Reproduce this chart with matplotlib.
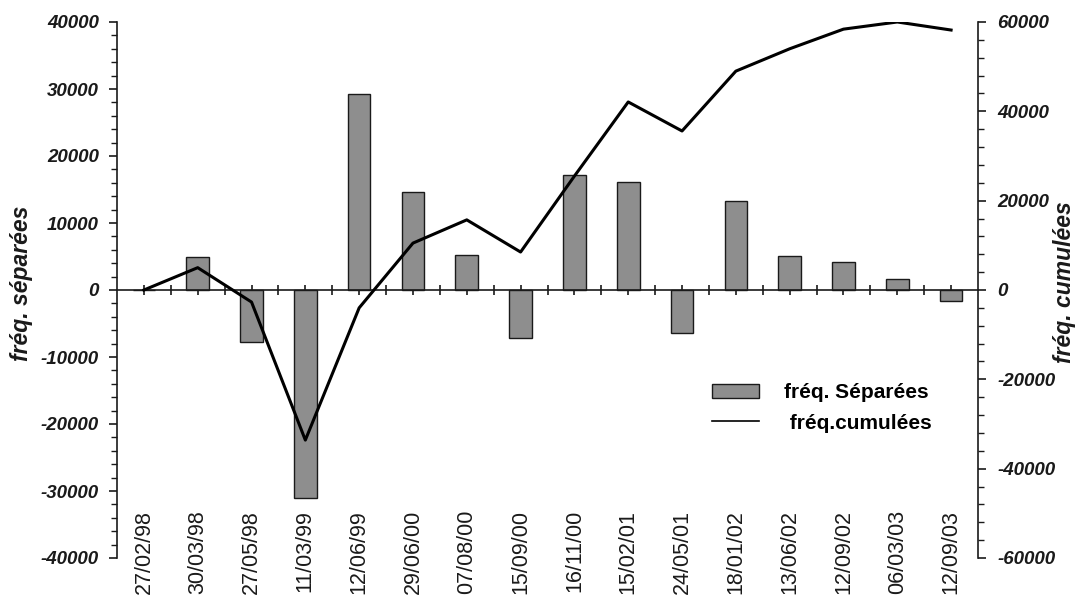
import numpy as np
import matplotlib
matplotlib.use('Agg')
import matplotlib.pyplot as plt
from matplotlib.ticker import MultipleLocator, StrMethodFormatter
from matplotlib.lines import Line2D

dates = ['27/02/98', '30/03/98', '27/05/98', '11/03/99', '12/06/99', '29/06/00',
         '07/08/00', '15/09/00', '16/11/00', '15/02/01', '24/05/01', '18/01/02',
         '13/06/02', '12/09/02', '06/03/03', '12/09/03']
freq_separees = [0, 5000, -7700, -31000, 29200, 14600, 5200, -7100,
                 17200, 16100, -6400, 13300, 5100, 4200, 1600, -1700]
freq_cumulees = [0, 5000, -2700, -33600, -4000, 10500, 15700, 8500,
                 25500, 42100, 35600, 49000, 54000, 58400, 60000, 58200]

plt.rcParams['font.family'] = ['Liberation Sans', 'DejaVu Sans']
plt.rcParams['axes.unicode_minus'] = False

dark = '#1a1a1a'
fig = plt.figure(figsize=(10.79, 5.99), dpi=100)
ax = fig.add_axes([117 / 1079, 41 / 599, 861 / 1079, 536 / 599])
x = np.arange(len(dates))

bars = ax.bar(x, freq_separees, width=0.42, color='#8e8e8e', edgecolor=dark,
              linewidth=1.0, zorder=2)
ax.set_xlim(-0.5, len(dates) - 0.5)
ax.set_ylim(-40000, 40000)
for s in ['top', 'right']:
    ax.spines[s].set_visible(False)
ax.spines['bottom'].set_position(('data', 0))
ax.spines['bottom'].set_color(dark)
ax.spines['left'].set_color(dark)
ax.spines['bottom'].set_linewidth(1.2)
ax.spines['left'].set_linewidth(1.2)

ax.set_xticks(x)
ax.set_xticks(x[:-1] + 0.5, minor=True)
ax.tick_params(axis='x', which='both', direction='inout', length=7, width=1.2,
               color=dark, labelbottom=False)
for i, d in enumerate(dates):
    ax.text(i, 0.0896, d, transform=ax.get_xaxis_transform(), rotation=90,
            ha='center', va='top', fontsize=15.5, color=dark)

ax.yaxis.set_major_locator(MultipleLocator(10000))
ax.yaxis.set_minor_locator(MultipleLocator(2000))
ax.yaxis.set_major_formatter(StrMethodFormatter('{x:.0f}'))
ax.tick_params(axis='y', which='major', direction='out', length=6, width=1.2,
               color=dark, pad=7, labelsize=13.5, labelcolor=dark)
ax.tick_params(axis='y', which='minor', direction='out', length=4, width=1.0, color=dark)
for lab in ax.get_yticklabels():
    lab.set_fontweight('bold')
    lab.set_fontstyle('italic')
ax.set_ylabel('fréq. séparées', fontsize=16.5, fontweight='bold', style='italic', color=dark)
ax.yaxis.set_label_coords(-0.097, 0.513)

ax2 = ax.twinx()
ax2.plot(x, freq_cumulees, color='black', linewidth=2.2, zorder=3)
ax2.set_ylim(-60000, 60000)
for s in ['top', 'bottom', 'left']:
    ax2.spines[s].set_visible(False)
ax2.spines['right'].set_color(dark)
ax2.spines['right'].set_linewidth(1.2)
ax2.yaxis.set_major_locator(MultipleLocator(20000))
ax2.yaxis.set_minor_locator(MultipleLocator(4000))
ax2.yaxis.set_major_formatter(StrMethodFormatter('{x:.0f}'))
ax2.tick_params(axis='y', which='major', direction='out', length=6, width=1.2,
                color=dark, pad=8, labelsize=13.5, labelcolor=dark)
ax2.tick_params(axis='y', which='minor', direction='out', length=4, width=1.0, color=dark)
for lab in ax2.get_yticklabels():
    lab.set_fontweight('bold')
    lab.set_fontstyle('italic')
ax2.set_ylabel('fréq. cumulées', fontsize=16.5, fontweight='bold', style='italic',
               color=dark, rotation=90)
ax2.yaxis.set_label_coords(1.087, 0.514)

line_proxy = Line2D([], [], color='black', linewidth=1.2)
ax2.legend([bars, line_proxy], ['fréq. Séparées', ' fréq.cumulées'],
           loc='upper left', bbox_to_anchor=(0.691, 0.326), frameon=False,
           prop={'weight': 'bold', 'size': 15}, handlelength=2.25, handleheight=0.7,
           handletextpad=1.2, borderpad=0, borderaxespad=0, labelspacing=0.55)

fig.savefig('out.png', dpi=100)
